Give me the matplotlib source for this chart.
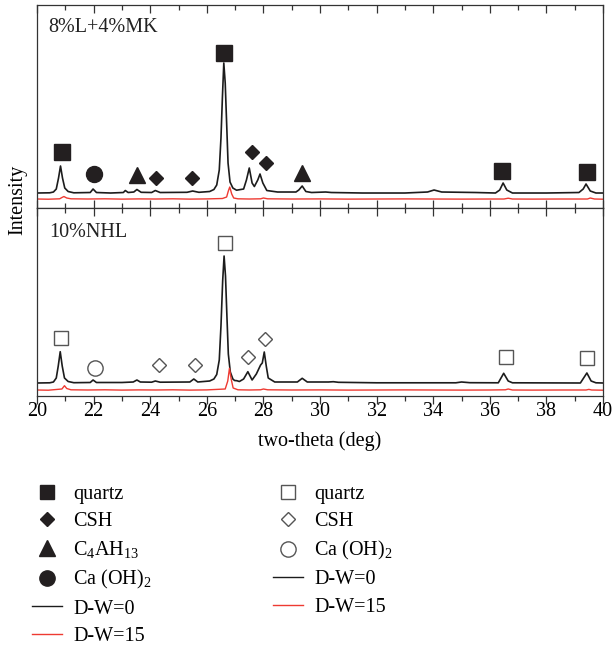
import matplotlib
matplotlib.use("Agg")
import matplotlib.pyplot as plt
from matplotlib.lines import Line2D
from matplotlib.ticker import MultipleLocator

plt.rcParams["font.family"] = ["Liberation Serif", "DejaVu Serif"]
plt.rcParams["mathtext.fontset"] = "custom"
plt.rcParams["mathtext.rm"] = "Liberation Serif"
plt.rcParams["mathtext.it"] = "Liberation Serif:italic"
plt.rcParams["font.size"] = 14

# 8%L+4%MK, D-W=0
mk_dw0_x = [20.00, 20.45, 20.58, 20.68, 20.76, 20.83, 20.90, 20.98, 21.10, 21.30, 21.88, 21.98,
            22.10, 22.60, 23.05, 23.12, 23.22, 23.42, 23.53, 23.68, 24.05, 24.18, 24.35, 25.30,
            25.50, 25.72, 26.10, 26.25, 26.35, 26.44, 26.50, 26.55, 26.60, 26.65, 26.70, 26.75,
            26.82, 26.92, 27.05, 27.30, 27.40, 27.50, 27.60, 27.68, 27.80, 27.88, 27.98, 28.12,
            28.50, 29.15, 29.25, 29.37, 29.50, 29.70, 30.20, 30.40, 31.50, 33.00, 33.80, 34.03,
            34.30, 35.50, 36.20, 36.35, 36.47, 36.60, 36.80, 38.00, 39.15, 39.30, 39.40, 39.55,
            39.75, 40.00]
mk_dw0_y = [150, 152, 160, 190, 300, 420, 300, 200, 165, 152, 155, 190,
            155, 150, 155, 175, 155, 160, 185, 157, 155, 175, 155, 157,
            170, 157, 165, 185, 230, 380, 700, 1100, 1450, 1250, 850, 450,
            260, 200, 178, 190, 280, 400, 250, 215, 280, 340, 250, 175,
            160, 160, 180, 220, 165, 155, 160, 155, 150, 150, 160, 180,
            160, 155, 150, 180, 250, 180, 150, 150, 155, 190, 240, 170,
            150, 150]

# 8%L+4%MK, D-W=15
mk_dw15_x = [20.00, 20.40, 20.80, 20.88, 20.95, 21.05, 21.20, 21.80, 22.40, 23.00, 23.60, 24.20,
             24.80, 25.40, 26.00, 26.55, 26.70, 26.76, 26.81, 26.88, 26.95, 27.10, 27.50, 27.90,
             28.00, 28.15, 29.00, 30.00, 31.00, 32.00, 33.00, 34.00, 35.00, 36.00, 36.50, 36.65,
             36.80, 37.50, 38.50, 39.45, 39.55, 39.70, 40.00]
mk_dw15_y = [90, 88, 92, 105, 115, 100, 92, 90, 92, 89, 91, 90,
             92, 89, 91, 95, 110, 170, 210, 140, 100, 92, 90, 92,
             100, 92, 90, 91, 89, 90, 91, 90, 89, 90, 90, 98,
             90, 89, 90, 90, 100, 90, 88]

# 10%NHL, D-W=0
nhl_dw0_x = [20.00, 20.45, 20.58, 20.68, 20.75, 20.82, 20.89, 20.97, 21.10, 21.30, 21.88, 21.98,
             22.10, 23.00, 23.40, 23.53, 23.65, 24.05, 24.18, 24.35, 25.40, 25.54, 25.68, 26.10,
             26.25, 26.35, 26.44, 26.50, 26.56, 26.61, 26.66, 26.71, 26.76, 26.83, 26.92, 26.98,
             27.06, 27.15, 27.30, 27.45, 27.60, 27.75, 27.90, 27.96, 28.03, 28.10, 28.17, 28.40,
             29.20, 29.37, 29.55, 30.30, 30.47, 30.65, 32.00, 34.80, 35.00, 35.30, 36.30, 36.49,
             36.65, 36.80, 39.20, 39.43, 39.58, 39.75, 40.00]
nhl_dw0_y = [130, 132, 140, 180, 300, 443, 300, 180, 145, 133, 135, 160,
             135, 135, 140, 160, 140, 138, 150, 138, 140, 170, 140, 150,
             170, 215, 360, 700, 1150, 1400, 1200, 800, 420, 240, 170, 155,
             153, 145, 170, 243, 160, 220, 310, 330, 440, 300, 180, 140,
             140, 177, 140, 140, 143, 137, 132, 132, 140, 133, 132, 227,
             150, 132, 130, 230, 150, 132, 130]

# 10%NHL, D-W=15
nhl_dw15_x = [20.00, 20.40, 20.88, 20.97, 21.05, 21.20, 21.80, 22.40, 23.00, 23.60, 24.20, 24.80,
              25.40, 26.00, 26.65, 26.74, 26.80, 26.86, 26.93, 27.10, 27.50, 27.90, 28.00, 28.15,
              29.00, 30.00, 31.00, 32.00, 33.00, 34.00, 35.00, 36.00, 36.55, 36.65, 36.80, 37.50,
              38.50, 39.40, 39.50, 39.60, 40.00]
nhl_dw15_y = [60, 58, 70, 103, 75, 62, 60, 62, 59, 61, 60, 62,
              59, 61, 70, 150, 277, 170, 80, 62, 60, 62, 70, 62,
              60, 61, 59, 60, 61, 60, 59, 60, 62, 70, 60, 59,
              60, 60, 66, 60, 58]

# phase markers, 8%L+4%MK
mk_quartz_x = [20.88, 26.62, 36.44, 39.42]
mk_quartz_y = [563, 1547, 373, 363]
mk_csh_x = [24.22, 25.49, 27.58, 28.08]
mk_csh_y = [300, 300, 563, 447]
mk_c4ah13_x = [23.53, 29.35]
mk_c4ah13_y = [330, 353]
mk_ch_x = [22.0]
mk_ch_y = [340]

# phase markers, 10%NHL
nhl_quartz_x = [20.86, 26.65, 36.56, 39.43]
nhl_quartz_y = [577, 1527, 393, 377]
nhl_csh_x = [24.30, 25.57, 27.47, 28.07]
nhl_csh_y = [310, 310, 393, 570]
nhl_ch_x = [22.04]
nhl_ch_y = [277]

BLACK = "#1c1c1c"
RED = "#ee3a32"
MARK = "#231f20"
OPEN = "#555555"

fig = plt.figure(figsize=(6.13, 6.46), dpi=100)
ax_top = fig.add_axes([0.0604, 0.678, 0.9233, 0.3143])
ax_bot = fig.add_axes([0.0604, 0.387, 0.9233, 0.291], sharex=ax_top)

ax_top.plot(mk_dw0_x, mk_dw0_y, color=BLACK, lw=1.2)
ax_top.plot(mk_dw15_x, mk_dw15_y, color=RED, lw=1.0)
ax_bot.plot(nhl_dw0_x, nhl_dw0_y, color=BLACK, lw=1.2)
ax_bot.plot(nhl_dw15_x, nhl_dw15_y, color=RED, lw=1.0)

filled = dict(ls="none", color=MARK, mec=MARK)
ax_top.plot(mk_quartz_x, mk_quartz_y, marker="s", ms=11, **filled)
ax_top.plot(mk_csh_x, mk_csh_y, marker="D", ms=7.6, **filled)
ax_top.plot(mk_c4ah13_x, mk_c4ah13_y, marker="^", ms=12, **filled)
ax_top.plot(mk_ch_x, mk_ch_y, marker="o", ms=11.5, **filled)

hollow = dict(ls="none", mfc="white", mec=OPEN, mew=1.0)
ax_bot.plot(nhl_quartz_x, nhl_quartz_y, marker="s", ms=10, **hollow)
ax_bot.plot(nhl_csh_x, nhl_csh_y, marker="D", ms=7, **hollow)
ax_bot.plot(nhl_ch_x, nhl_ch_y, marker="o", ms=11, **hollow)

ax_top.set_ylim(0, 2030)
ax_bot.set_ylim(0, 1880)
ax_bot.set_xlim(20, 40)

for ax in (ax_top, ax_bot):
    ax.set_yticks([])
    ax.xaxis.set_major_locator(MultipleLocator(2))
    ax.xaxis.set_minor_locator(MultipleLocator(1))
    for side in ax.spines.values():
        side.set_color("#333333")
        side.set_linewidth(0.9)
    ax.tick_params(axis="x", which="both", top=True, direction="in", color="#333333", width=0.9)
    ax.tick_params(axis="x", which="major", length=6)
    ax.tick_params(axis="x", which="minor", length=3.5)

ax_top.tick_params(axis="x", which="both", labelbottom=False)
ax_bot.tick_params(axis="x", which="both", bottom=True, labelsize=14.5, pad=4)
# bottom ticks of the lower panel point outwards
for t in ax_bot.xaxis.get_major_ticks() + ax_bot.xaxis.get_minor_ticks():
    t.tick1line.set_marker(3)

ax_top.text(0.019, 0.89, "8%L+4%MK", transform=ax_top.transAxes, fontsize=14.5, va="center", color="#222222")
ax_bot.text(0.021, 0.87, "10%NHL", transform=ax_bot.transAxes, fontsize=14.5, va="center", color="#222222")

ax_bot.set_xlabel("two-theta (deg)", fontsize=14.5, labelpad=8)
fig.text(0.029, 0.69, "Intensity", rotation=90, fontsize=14.5, ha="center", va="center")

left_handles = [
    Line2D([], [], ls="none", marker="s", ms=10.5, color=MARK),
    Line2D([], [], ls="none", marker="D", ms=7.4, color=MARK),
    Line2D([], [], ls="none", marker="^", ms=11.5, color=MARK),
    Line2D([], [], ls="none", marker="o", ms=11, color=MARK),
    Line2D([], [], color=BLACK, lw=1.0),
    Line2D([], [], color=RED, lw=1.0),
]
left_labels = ["quartz", "CSH", "C$_4$AH$_{13}$", "Ca (OH)$_2$", "D-W=0", "D-W=15"]

right_handles = [
    Line2D([], [], ls="none", marker="s", ms=10, mfc="white", mec=OPEN),
    Line2D([], [], ls="none", marker="D", ms=7, mfc="white", mec=OPEN),
    Line2D([], [], ls="none", marker="o", ms=11, mfc="white", mec=OPEN),
    Line2D([], [], color=BLACK, lw=1.0),
    Line2D([], [], color=RED, lw=1.0),
]
right_labels = ["quartz", "CSH", "Ca (OH)$_2$", "D-W=0", "D-W=15"]

legend_style = dict(frameon=False, fontsize=14.5, handlelength=1.5, handletextpad=0.55,
                    labelspacing=0.40, borderpad=0, borderaxespad=0, loc="upper left")
fig.legend(left_handles, left_labels, bbox_to_anchor=(32 / 613, 1 - 485 / 646), **legend_style)
fig.legend(right_handles, right_labels, bbox_to_anchor=(273 / 613, 1 - 485 / 646), **legend_style)

fig.savefig("out.png", dpi=100)
